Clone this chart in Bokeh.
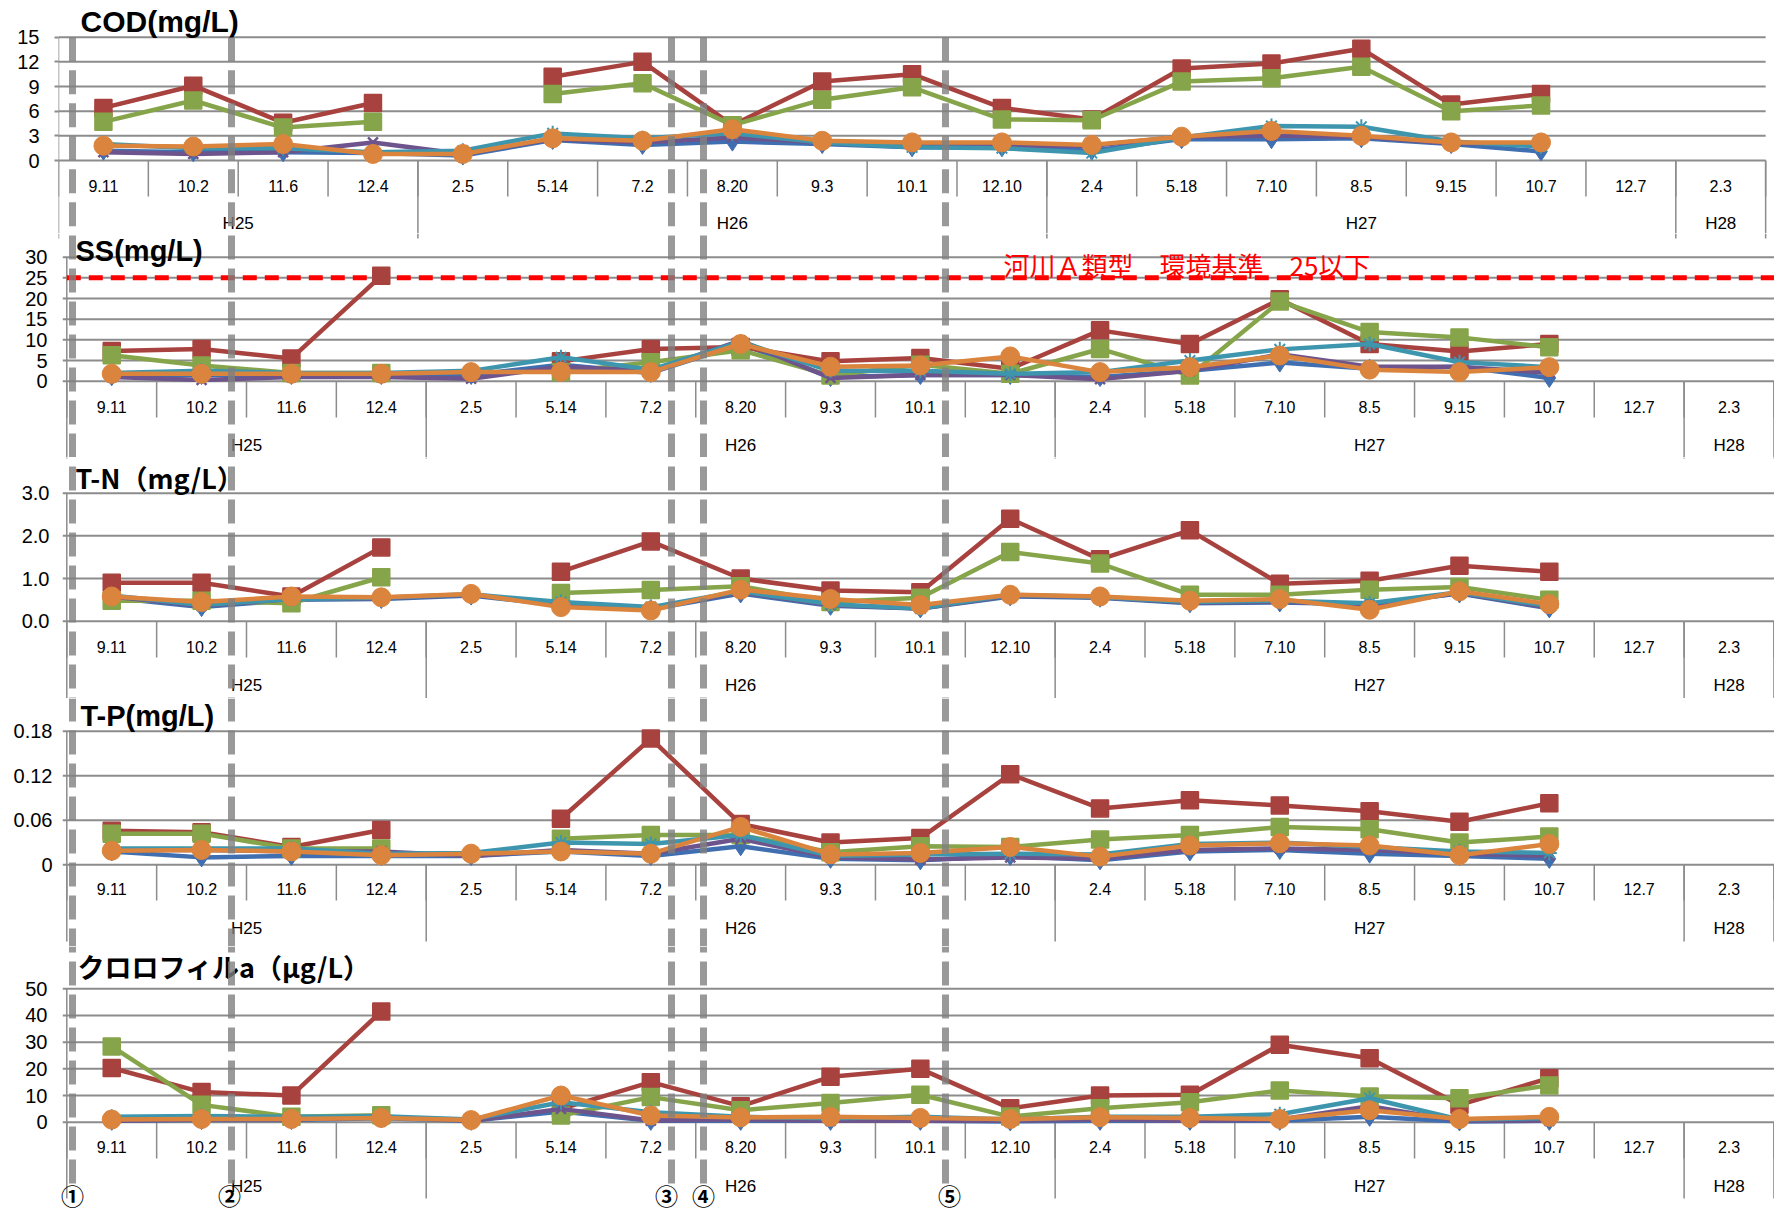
import numpy as np
from bokeh.plotting import figure
from bokeh.models import Range1d, FixedTicker, CustomJSTickFormatter
from bokeh.layouts import column
from bokeh.embed import file_html
from bokeh.resources import INLINE
from bokeh.core.properties import value

# ---------------- data ----------------
dates = ["9.11", "10.2", "11.6", "12.4", "2.5", "5.14", "7.2", "8.20", "9.3", "10.1",
         "12.10", "2.4", "5.18", "7.10", "8.5", "9.15", "10.7", "12.7", "2.3"]
years = ["H25", "H26", "H27", "H28"]
year_sizes = [4, 7, 7, 1]
markers_text = ["①", "②", "③", "④", "⑤"]
ss_standard = 25
ss_standard_text = "河川Ａ類型　環境基準　25以下"

N = None
cod_blue   = [1.2, 1.0, 1.0, 0.9, 0.6, 2.5, 1.9, 2.3, 2.0, 1.6, 1.6, 1.2, 2.6, 2.6, 2.7, 2.0, 1.1]
cod_red    = [6.4, 9.1, 4.6, 7.0, N, 10.2, 12.0, 4.3, 9.6, 10.5, 6.4, 5.0, 11.2, 11.8, 13.6, 6.8, 8.1]
cod_green  = [4.7, 7.3, 4.0, 4.7, N, 8.1, 9.4, 4.3, 7.4, 8.9, 5.0, 4.9, 9.6, 10.0, 11.4, 6.0, 6.7]
cod_purple = [1.0, 0.8, 1.0, 2.2, 0.8, 2.6, 2.2, 2.8, 2.2, 1.8, 1.8, 1.8, 2.9, 3.0, 2.9, 2.1, 2.0]
cod_teal   = [2.0, 1.5, 1.5, 1.0, 1.2, 3.3, 2.7, 3.3, 2.2, 1.6, 1.5, 0.9, 2.8, 4.2, 4.1, 2.3, 1.7]
cod_orange = [1.8, 1.7, 2.0, 0.8, 0.8, 2.7, 2.4, 3.8, 2.4, 2.2, 2.2, 1.9, 2.9, 3.6, 3.0, 2.2, 2.2]

ss_blue   = [1.2, 1.5, 1.5, 1.5, 1.5, 4.0, 2.0, 9.0, 1.0, 1.5, 1.5, 1.0, 2.5, 4.5, 3.0, 3.5, 0.8]
ss_red    = [7.3, 7.8, 5.5, 25.5, N, 4.8, 7.8, 8.3, 4.8, 5.6, 3.0, 12.3, 9.0, 19.8, 9.0, 7.2, 9.0]
ss_green  = [6.3, 3.8, 2.0, 2.0, N, 2.2, 4.6, 7.5, 1.4, 4.0, 1.8, 7.8, 1.4, 19.3, 11.9, 10.6, 8.2]
ss_purple = [1.0, 0.3, 1.0, 1.0, 0.6, 3.5, 2.5, 9.8, 0.8, 1.5, 1.5, 0.5, 2.5, 6.5, 3.5, 3.5, 2.0]
ss_teal   = [2.0, 2.5, 2.0, 2.0, 2.5, 5.8, 2.8, 9.5, 2.5, 2.5, 1.8, 2.2, 5.0, 7.7, 9.0, 4.6, 3.4]
ss_orange = [1.8, 1.8, 1.8, 1.8, 2.2, 2.3, 2.2, 9.0, 3.5, 3.8, 6.0, 2.2, 3.4, 6.2, 2.8, 2.2, 3.4]

tn_blue   = [0.55, 0.33, 0.50, 0.52, 0.60, 0.38, 0.28, 0.65, 0.36, 0.30, 0.58, 0.55, 0.42, 0.44, 0.40, 0.65, 0.30]
tn_red    = [0.90, 0.90, 0.58, 1.73, N, 1.16, 1.87, 1.00, 0.72, 0.68, 2.40, 1.45, 2.13, 0.88, 0.95, 1.30, 1.16]
tn_green  = [0.48, 0.48, 0.42, 1.03, N, 0.66, 0.73, 0.82, 0.45, 0.55, 1.62, 1.35, 0.62, 0.62, 0.74, 0.80, 0.50]
tn_purple = [0.58, 0.36, 0.52, 0.54, 0.62, 0.40, 0.30, 0.68, 0.38, 0.30, 0.60, 0.56, 0.44, 0.46, 0.38, 0.66, 0.32]
tn_teal   = [0.60, 0.38, 0.52, 0.55, 0.63, 0.45, 0.33, 0.70, 0.40, 0.30, 0.62, 0.57, 0.45, 0.48, 0.42, 0.68, 0.35]
tn_orange = [0.58, 0.45, 0.58, 0.56, 0.64, 0.33, 0.25, 0.74, 0.52, 0.38, 0.62, 0.58, 0.48, 0.52, 0.27, 0.70, 0.40]

tp_blue   = [0.018, 0.010, 0.012, 0.012, 0.012, 0.018, 0.012, 0.025, 0.008, 0.006, 0.012, 0.006, 0.018, 0.020, 0.015, 0.012, 0.008]
tp_red    = [0.046, 0.044, 0.024, 0.047, N, 0.062, 0.170, 0.055, 0.030, 0.036, 0.122, 0.076, 0.087, 0.080, 0.072, 0.058, 0.083]
tp_green  = [0.042, 0.042, 0.022, 0.022, N, 0.035, 0.040, 0.040, 0.017, 0.025, 0.024, 0.034, 0.040, 0.051, 0.048, 0.030, 0.038]
tp_purple = [0.020, 0.020, 0.018, 0.018, 0.012, 0.020, 0.015, 0.035, 0.010, 0.007, 0.010, 0.008, 0.020, 0.022, 0.020, 0.015, 0.012]
tp_teal   = [0.022, 0.022, 0.022, 0.015, 0.016, 0.030, 0.028, 0.040, 0.012, 0.014, 0.015, 0.014, 0.028, 0.030, 0.024, 0.018, 0.016]
tp_orange = [0.019, 0.020, 0.018, 0.013, 0.015, 0.018, 0.015, 0.051, 0.014, 0.016, 0.024, 0.011, 0.026, 0.029, 0.026, 0.013, 0.028]

chl_blue   = [0.5, 0.8, 0.8, 1.5, 0.5, 4.0, 0.5, 0.5, 0.5, 0.5, 0.3, 0.5, 0.5, 0.5, 2.0, 0.3, 0.5]
chl_red    = [20.3, 11.3, 10.0, 41.5, N, 5.0, 15.0, 6.0, 17.0, 20.0, 5.2, 10.0, 10.3, 29.0, 24.0, 6.5, 16.5]
chl_green  = [28.4, 6.5, 2.0, 2.6, N, 2.5, 9.4, 4.5, 7.2, 10.3, 2.1, 5.2, 7.5, 11.9, 9.6, 9.0, 13.8]
chl_purple = [0.5, 1.0, 1.0, 2.0, 0.5, 5.0, 0.6, 1.0, 0.5, 0.5, 0.5, 1.0, 0.5, 1.0, 6.0, 0.5, 0.5]
chl_teal   = [2.0, 2.3, 2.0, 2.2, 1.0, 7.5, 3.7, 2.0, 1.5, 2.0, 1.0, 2.0, 2.0, 3.0, 9.0, 1.0, 1.5]
chl_orange = [1.0, 1.2, 1.2, 1.6, 0.8, 10.0, 2.5, 1.8, 2.0, 1.6, 1.2, 1.9, 1.6, 1.2, 4.5, 1.2, 2.0]

panel_data = [
    [cod_blue, cod_red, cod_green, cod_purple, cod_teal, cod_orange],
    [ss_blue, ss_red, ss_green, ss_purple, ss_teal, ss_orange],
    [tn_blue, tn_red, tn_green, tn_purple, tn_teal, tn_orange],
    [tp_blue, tp_red, tp_green, tp_purple, tp_teal, tp_orange],
    [chl_blue, chl_red, chl_green, chl_purple, chl_teal, chl_orange],
]
panel_titles = ["COD(mg/L)", "SS(mg/L)", "T-N（mg/L）", "T-P(mg/L)", "クロロフィルa（μg/L）"]
panel_ticks = [[0, 3, 6, 9, 12, 15], [0, 5, 10, 15, 20, 25, 30], [0, 1, 2, 3],
               [0, 0.06, 0.12, 0.18], [0, 10, 20, 30, 40, 50]]
panel_decimals = [0, 0, 1, 2, 0]

# ---------------- styles / layout (pixel positions on the page) ----------------
LAT = "Liberation Sans"
CJK = "Noto Sans CJK JP"
GRID = "#8c8c8c"
FRAME_L, FRAME_R = 58, 1774      # page px of every frame (frames are aligned by the column)
series_styles = [  # color, marker, size, marker line width
    ("#3F6FB0", "diamond", 19, 1),
    ("#A8423F", "square", 17, 1.5),
    ("#86A44A", "square", 17, 1.5),
    ("#6E548D", "x", 14, 2.5),
    ("#3D96AE", "asterisk", 15, 2),
    ("#DB843D", "circle", 19, 1),
]
title_fonts = [LAT, LAT, CJK, LAT, CJK]
title_sizes = ["30px", "29px", "27px", "29px", "27px"]
layout = [
    dict(top=0, bot=233, left=58, catw=89.85, y0=160.0, ytop=36.7, cat_y=185, sep_bot=196,
         year_y=222.5, grp_bot=238, title_x=80, title_y=21, standoff=15, tick_out=4,
         dash_top=36.7, dash_bot=233),
    dict(top=233, bot=457, left=66.3, catw=89.85, y0=380.7, ytop=256.7, cat_y=406.7, sep_bot=417,
         year_y=445, grp_bot=458, title_x=75, title_y=250, standoff=11, tick_out=0,
         dash_top=233, dash_bot=457),
    dict(top=457, bot=698, left=66.3, catw=89.85, y0=620.7, ytop=492.7, cat_y=646.7, sep_bot=657,
         year_y=685, grp_bot=698, title_x=75, title_y=477, standoff=9, tick_out=0,
         dash_top=457, dash_bot=698),
    dict(top=698, bot=946, left=66.3, catw=89.85, y0=864.3, ytop=730.7, cat_y=888, sep_bot=900,
         year_y=928, grp_bot=941, title_x=80, title_y=715, standoff=6, tick_out=0,
         dash_top=698, dash_bot=946),
    dict(top=946, bot=1211, left=66.3, catw=89.85, y0=1121.7, ytop=988.3, cat_y=1146, sep_bot=1158,
         year_y=1186, grp_bot=1198, title_x=77, title_y=966, standoff=11, tick_out=0,
         dash_top=946, dash_bot=1188),
]
dash_x_px = [72, 231, 671, 703, 945]
circ_x_px = [72, 229, 666, 703, 949]
circ_y_px = 1194
ss_text_px = (1003, 264)
DASH_PERIOD = 33

nd = len(dates)
x_pos = [i + 0.5 for i in range(nd)]
bounds = [0] + [int(b) for b in np.cumsum(year_sizes)]
year_centers = [(bounds[i] + bounds[i + 1]) / 2 for i in range(len(years))]

figs = []
prev = None
for idx, (L, data, title, ticks, dec) in enumerate(zip(layout, panel_data, panel_titles,
                                                       panel_ticks, panel_decimals)):
    vtop = ticks[-1]
    k = (L["y0"] - L["ytop"]) / vtop

    def val(py, L=L, k=k):
        return (L["y0"] - py) / k

    catw = L["catw"]

    def xs(px, L=L, catw=catw):
        return (px - L["left"]) / catw

    H = L["bot"] - L["top"]
    p = figure(x_range=Range1d(xs(FRAME_L), xs(FRAME_R)),
               y_range=Range1d(val(L["bot"]), val(L["top"])),
               frame_width=FRAME_R - FRAME_L, frame_height=H, min_border_left=FRAME_L,
               min_border_right=0, min_border_top=0, min_border_bottom=0,
               x_axis_location=None, title=None, output_backend="svg", toolbar_location=None,
               outline_line_color=None, background_fill_color="white", border_fill_color="white")
    ax = p.yaxis[0]
    ax.ticker = FixedTicker(ticks=ticks)
    if dec == 2:
        code = "return tick === 0 ? '0' : tick.toFixed(2);"
    else:
        code = "return tick.toFixed(%d);" % dec
    ax.formatter = CustomJSTickFormatter(code=code)
    ax.axis_line_color = None
    ax.major_tick_in = 0
    ax.major_tick_out = L["tick_out"]
    ax.major_tick_line_color = GRID
    ax.major_tick_line_width = 2
    ax.minor_tick_line_color = None
    ax.major_label_standoff = L["standoff"]
    ax.major_label_text_font = LAT
    ax.major_label_text_font_size = "20px"
    ax.major_label_text_color = "black"
    p.xgrid.visible = False
    p.ygrid.visible = False

    # horizontal gridlines over the category span (with short outward ticks)
    gx0 = -4.0 / catw
    p.segment(x0=[gx0] * len(ticks), x1=[nd] * len(ticks), y0=ticks, y1=ticks,
              line_color=GRID, line_width=2)

    # category axis: separators, group lines, labels
    p.segment(x0=list(range(nd + 1)), x1=list(range(nd + 1)), y0=[0] * (nd + 1),
              y1=[val(L["sep_bot"])] * (nd + 1), line_color=GRID, line_width=1.5)
    p.segment(x0=bounds, x1=bounds, y0=[0] * len(bounds), y1=[val(L["grp_bot"])] * len(bounds),
              line_color=GRID, line_width=1.5)
    p.segment(x0=[0], x1=[0], y0=[vtop], y1=[0], line_color=GRID, line_width=1.5)
    if prev is not None and prev["grp_bot"] > L["top"]:
        gx = [xs(prev["left"] + b * prev["catw"]) for b in bounds]
        p.segment(x0=gx, x1=gx, y0=[val(L["top"])] * len(gx), y1=[val(prev["grp_bot"])] * len(gx),
                  line_color=GRID, line_width=1.5)
    p.text(x=x_pos, y=[val(L["cat_y"])] * nd, text=dates, text_font=value(LAT),
           text_font_size=value("16px"), text_color="black", text_align="center",
           text_baseline="middle")
    p.text(x=year_centers, y=[val(L["year_y"])] * len(years), text=years, text_font=value(LAT),
           text_font_size=value("17px"), text_color="black", text_align="center",
           text_baseline="middle")
    p.text(x=[xs(L["title_x"])], y=[val(L["title_y"])], text=[title],
           text_font=value(title_fonts[idx]),
           text_font_size=value(title_sizes[idx]), text_font_style="bold", text_color="black",
           text_align="left", text_baseline="middle")

    if idx == 1:
        p.segment(x0=[0], x1=[nd], y0=[ss_standard], y1=[ss_standard], line_color="#FF0000",
                  line_width=5, line_dash="14 8")
        p.text(x=[xs(ss_text_px[0])], y=[val(ss_text_px[1])], text=[ss_standard_text],
               text_font=value(CJK), text_font_size=value("26px"), text_color="#FF0000",
               text_align="left", text_baseline="middle")

    # series
    for vals, (col, mk, sz, mlw) in zip(data, series_styles):
        arr = np.array(list(vals) + [None] * (nd - len(vals)), dtype=float)
        p.line(x=x_pos, y=arr, line_color=col, line_width=4.5)
        p.scatter(x=x_pos, y=arr, marker=mk, size=sz, fill_color=col, line_color=col,
                  line_width=mlw)

    # vertical dashed reference lines
    dx = [xs(v) for v in dash_x_px]
    off = (L["dash_top"] - layout[0]["dash_top"]) % DASH_PERIOD
    p.segment(x0=dx, x1=dx, y0=[val(L["dash_top"])] * len(dx), y1=[val(L["dash_bot"])] * len(dx),
              line_color="#7f7f7f", line_alpha=0.8, line_width=7, line_dash="24 9",
              line_dash_offset=int(off))
    if idx == len(layout) - 1:
        p.text(x=[xs(v) for v in circ_x_px], y=[val(circ_y_px)] * len(circ_x_px),
               text=markers_text, text_font=value(CJK), text_font_size=value("23px"),
               text_font_style="bold", text_color="black", text_align="center",
               text_baseline="middle")
    figs.append(p)
    prev = L

page = column(*figs, spacing=0)
open("out.html", "w").write(file_html(page, INLINE))
